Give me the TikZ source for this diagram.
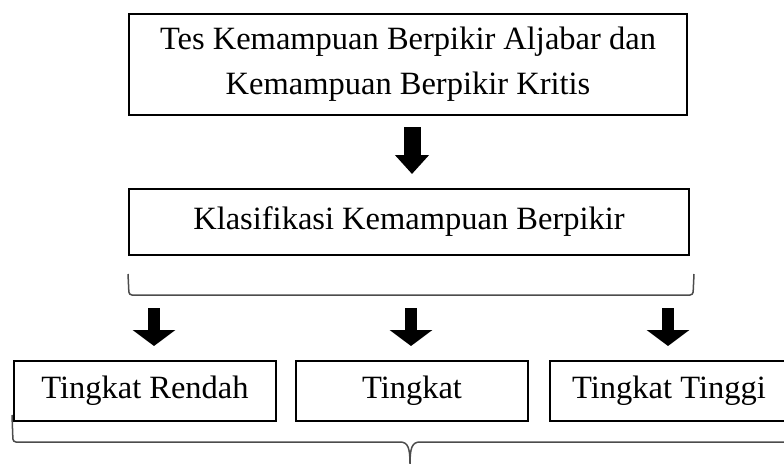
\documentclass[tikz,border=0pt]{standalone}
\usepackage{fontspec}
\setmainfont{Liberation Serif}
\usetikzlibrary{arrows.meta}
\begin{document}
\begin{tikzpicture}[x=1pt,y=-1pt,
  box/.style={draw=black,line width=2.5pt,rectangle,inner sep=0pt,align=center,
     font=\fontsize{32.5}{45}\selectfont},
  blockarrow/.style={line width=17pt,-{Triangle[width=33pt,length=19pt]}},
  smallarrow/.style={line width=12pt,-{Triangle[width=42pt,length=16pt]}},
  bracket/.style={draw=black!70,line width=1.5pt,rounded corners=3pt}]
\useasboundingbox (0,0) rectangle (784,463);
\clip (0,0) rectangle (784,463);
\node[box,minimum width=558pt,minimum height=101pt] (tes) at (408,64.5)
  {Tes Kemampuan Berpikir Aljabar dan\\Kemampuan Berpikir Kritis};
\node[box,minimum width=560pt,minimum height=66pt] (klas) at (409,222)
  {Klasifikasi Kemampuan Berpikir};
\node[box,minimum width=262pt,minimum height=60pt] (rendah) at (145,391) {Tingkat Rendah};
\node[box,minimum width=232pt,minimum height=60pt] (sedang) at (412,391) {Tingkat};
\node[box,minimum width=238pt,minimum height=60pt] (tinggi) at (669,391) {Tingkat Tinggi};
% top arrow
\coordinate (a0s) at (412,127);
\coordinate (a0e) at (412,174);
\draw[blockarrow] (a0s) -- (a0e);
% lower arrows
\coordinate (a1s) at (154,308);
\coordinate (a1e) at (154,346);
\coordinate (a2s) at (411,308);
\coordinate (a2e) at (411,346);
\coordinate (a3s) at (668,308);
\coordinate (a3e) at (668,346);
\draw[smallarrow] (a1s) -- (a1e);
\draw[smallarrow] (a2s) -- (a2e);
\draw[smallarrow] (a3s) -- (a3e);
% brackets
\draw[bracket] (128,274) -- (129,295) -- (693,295) -- (694,274);
\draw[bracket] (12,415) -- (13,442) -- (400,442);
\draw[draw=black!70,line width=1.5pt] (400,442) .. controls (408,442) and (410,448) .. (410,464)
  (420,442) .. controls (412,442) and (410,448) .. (410,464);
\draw[bracket] (420,442) -- (807,442) -- (808,415);
\end{tikzpicture}
\end{document}
